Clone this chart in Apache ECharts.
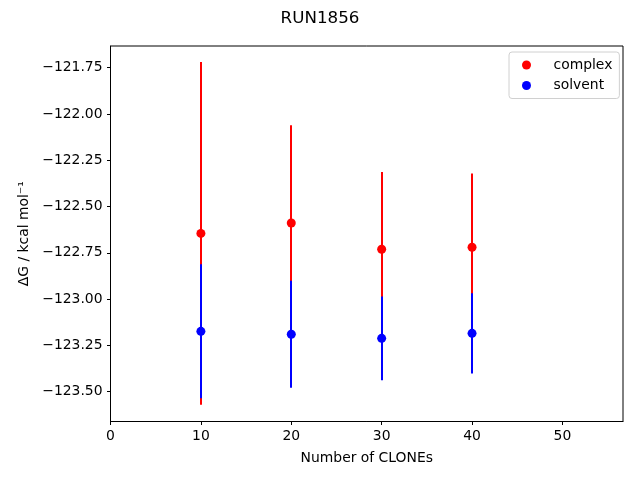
<!DOCTYPE html>
<html><head><meta charset="utf-8">
<script src="https://cdn.jsdelivr.net/npm/echarts@6/dist/echarts.min.js"></script>
<style>html,body{margin:0;padding:0;background:#fff}#c{width:640px;height:480px}</style>
</head><body><div id="c"></div>
<script>
const clones = [10, 20, 30, 40];
const complexMean = [-122.645, -122.589, -122.731, -122.720];
const complexErr = [0.925, 0.528, 0.418, 0.399];
const solventMean = [-123.174, -123.190, -123.212, -123.185];
const solventErr = [0.362, 0.289, 0.226, 0.217];
const xTicks = [0, 10, 20, 30, 40, 50];
const yTicks = [-123.5, -123.25, -123.0, -122.75, -122.5, -122.25, -122.0, -121.75];

const FONT = 'DejaVu Sans';
const chart = echarts.init(document.getElementById('c'), null, {renderer: 'canvas'});

function errData(means, errs) {
  return clones.map((x, i) => [x, means[i] - errs[i], means[i] + errs[i]]);
}
function errSeries(name, means, errs, color, z) {
  return {
    name: name, type: 'custom', z: z, silent: true,
    encode: {x: 0, y: [1, 2]},
    data: errData(means, errs),
    renderItem: function (params, api) {
      const p1 = api.coord([api.value(0), api.value(1)]);
      const p2 = api.coord([api.value(0), api.value(2)]);
      const px = Math.round(p1[0]);
      return {type: 'line', shape: {x1: px, y1: p1[1], x2: px, y2: p2[1]},
        style: {stroke: color, lineWidth: 2}};
    }
  };
}
const fmtNum = (v, d) => (v < 0 ? '\u2212' : '') + Math.abs(v).toFixed(d);

chart.setOption({
  animation: false,
  backgroundColor: '#fff',
  textStyle: {fontFamily: FONT},
  title: {text: 'RUN1856', left: 'center', top: 5,
    textStyle: {fontFamily: FONT, fontSize: 16.7, fontWeight: 'normal', color: '#000'}},
  grid: {left: 110.5, right: 17, top: 46, bottom: 58.5, show: true, borderColor: '#000', borderWidth: 1},
  legend: {
    data: ['complex', 'solvent'], orient: 'vertical', left: 509, top: 52,
    icon: 'circle', itemWidth: 10, itemHeight: 9, itemGap: 6.5,
    padding: [6, 7, 6, 13],
    backgroundColor: '#fff', borderColor: '#d0d0d0', borderWidth: 1, borderRadius: 3,
    textStyle: {fontFamily: FONT, fontSize: 13.9, color: '#000', padding: [0, 0, 0, 17]}
  },
  xAxis: {
    type: 'value', min: 0, max: 56.7,
    name: 'Number of CLONEs', nameLocation: 'middle', nameGap: 30,
    nameTextStyle: {fontFamily: FONT, fontSize: 13.9, color: '#000'},
    axisLine: {show: true, lineStyle: {color: '#000'}},
    axisTick: {show: true, length: 3.5, lineStyle: {color: '#000'}, customValues: xTicks},
    axisLabel: {color: '#000', fontFamily: FONT, fontSize: 13.9, margin: 8, customValues: xTicks,
      formatter: v => fmtNum(Number(v), 0)},
    splitLine: {show: false}
  },
  yAxis: {
    type: 'value', min: -123.661, max: -121.633,
    name: 'ΔG / kcal mol⁻¹', nameLocation: 'middle', nameGap: 78, nameRotate: 90,
    nameTextStyle: {fontFamily: FONT, fontSize: 13.9, color: '#000'},
    axisLine: {show: true, lineStyle: {color: '#000'}},
    axisTick: {show: true, length: 3.5, lineStyle: {color: '#000'}, customValues: yTicks},
    axisLabel: {color: '#000', fontFamily: FONT, fontSize: 13.9, margin: 8, customValues: yTicks,
      formatter: v => fmtNum(Number(v), 2)},
    splitLine: {show: false}
  },
  series: [
    errSeries('complexErr', complexMean, complexErr, '#ff0000', 1),
    {name: 'complex', type: 'scatter', z: 2, symbolSize: 9, itemStyle: {color: '#ff0000', opacity: 1},
      data: clones.map((x, i) => [x, complexMean[i]])},
    errSeries('solventErr', solventMean, solventErr, '#0000ff', 3),
    {name: 'solvent', type: 'scatter', z: 4, symbolSize: 9, itemStyle: {color: '#0000ff', opacity: 1},
      data: clones.map((x, i) => [x, solventMean[i]])}
  ]
});
</script></body></html>
